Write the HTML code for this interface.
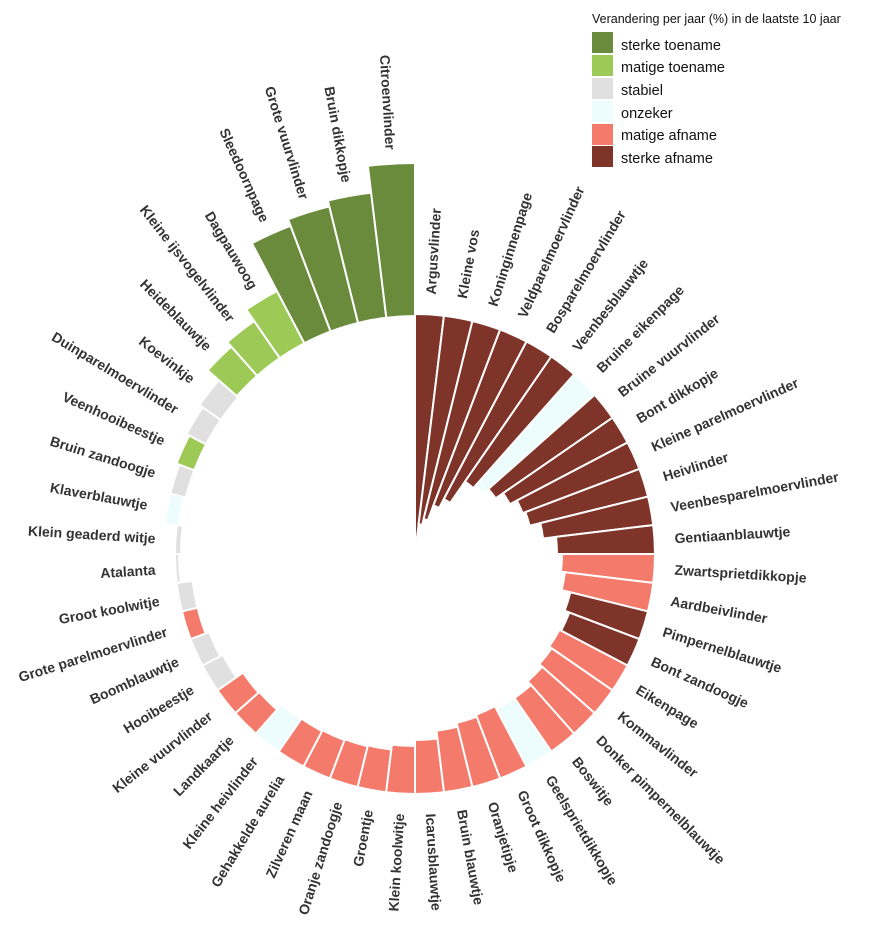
<!DOCTYPE html>
<html><head><meta charset="utf-8"><style>
html,body{margin:0;padding:0;background:#fff;}
svg{display:block;font-family:"Liberation Sans",sans-serif;}
</style></head><body>
<svg id="s" width="887" height="928" xmlns="http://www.w3.org/2000/svg">
<g font-size="12.5" fill="#111"><text x="592" y="23">Verandering per jaar (%) in de laatste 10 jaar</text></g>
<g font-size="14.5" fill="#111">
<rect x="592" y="32" width="21" height="21" fill="#6a8a3c"/><text x="621" y="50">sterke toename</text>
<rect x="592" y="55" width="21" height="21" fill="#9dc957"/><text x="621" y="72">matige toename</text>
<rect x="592" y="78" width="21" height="21" fill="#e0e0e0"/><text x="621" y="95">stabiel</text>
<rect x="592" y="101" width="21" height="21" fill="#edfcfd"/><text x="621" y="118">onzeker</text>
<rect x="592" y="124" width="21" height="21" fill="#f47b6b"/><text x="621" y="140">matige afname</text>
<rect x="592" y="146" width="21" height="21" fill="#7e3429"/><text x="621" y="163">sterke afname</text>
</g>
<g id="bars"></g><g id="labels" font-size="14" font-weight="bold" fill="#333"></g>
</svg>
<script>
var C={sg:"#6a8a3c",mg:"#9dc957",st:"#e0e0e0",on:"#edfcfd",ma:"#f47b6b",sa:"#7e3429"};
var R=240,cx=415,cy=554;
var d=[
["Argusvlinder","sa",0,R],["Kleine vos","sa",30,R],["Koninginnenpage","sa",36,R],["Veldparelmoervlinder","sa",52,R],
["Bosparelmoervlinder","sa",62,R],["Veenbesblauwtje","sa",88,R],["Bruine eikenpage","on",91,R],["Bruine vuurvlinder","sa",98,R],
["Bont dikkopje","sa",107,R],["Kleine parelmoervlinder","sa",115,R],["Heivlinder","sa",118,R],["Veenbesparelmoervlinder","sa",129,R],
["Gentiaanblauwtje","sa",142,R],["Zwartsprietdikkopje","ma",147,R],["Aardbeivlinder","ma",151,R],["Pimpernelblauwtje","sa",160,R],
["Bont zandoogje","sa",165,R],["Eikenpage","ma",163,R],["Kommavlinder","ma",166,R],["Donker pimpernelblauwtje","ma",170,R],
["Boswitje","ma",175,R],["Geelsprietdikkopje","on",175,R],["Groot dikkopje","ma",172,R],["Oranjetipje","ma",174,R],
["Bruin blauwtje","ma",178,R],["Icarusblauwtje","ma",186,R],["Klein koolwitje","ma",192,R],["Groentje","ma",197,R],
["Oranje zandoogje","ma",198,R],["Zilveren maan","ma",199,R],["Gehakkelde aurelia","ma",200,R],["Kleine heivlinder","on",201,R],
["Landkaartje","ma",208,R],["Kleine vuurvlinder","ma",209,R],["Hooibeestje","st",217,R],["Boomblauwtje","st",220,R],
["Grote parelmoervlinder","ma",224,R],["Groot koolwitje","st",224,R],["Atalanta","st",236,R],["Klein geaderd witje","st",234,R],
["Klaverblauwtje","on",238,252],["Bruin zandoogje","st",236,252],["Veenhooibeestje","mg",236,255],["Duinparelmoervlinder","st",236,258],
["Koevinkje","st",236,262],["Heideblauwtje","mg",238,277],["Kleine ijsvogelvlinder","mg",238,283],["Dagpauwoog","mg",238,297],
["Sleedoornpage","sg",238,351],["Grote vuurvlinder","sg",238,358],["Bruin dikkopje","sg",238,364],["Citroenvlinder","sg",238,391]];
var n=d.length,step=2*Math.PI/n,bs="",ls="";
function P(r,a){return [(cx+r*Math.sin(a)).toFixed(2),(cy-r*Math.cos(a)).toFixed(2)];}
d.forEach(function(b,i){
 var a0=i*step,a1=(i+1)*step,ri=b[2],ro=b[3];
 var p1=P(ro,a0),p2=P(ro,a1),p3=P(ri,a1),p4=P(ri,a0);
 bs+='<path d="M'+p1+' A'+ro+' '+ro+' 0 0 1 '+p2+' L'+p3+(ri>0?' A'+ri+' '+ri+' 0 0 0 '+p4:'')+' Z" fill="'+C[b[1]]+'" stroke="#fff" stroke-width="2"/>';
 var am=(i+0.5)*step,deg=am*180/Math.PI,lr=(ro>R+30)?ro+14:Math.max(ro,R)+20;
 var p=P(lr,am);
 if(deg<180){ls+='<text x="'+p[0]+'" y="'+p[1]+'" dy="5" transform="rotate('+(deg-90).toFixed(2)+' '+p[0]+' '+p[1]+')">'+b[0]+'</text>';}
 else{ls+='<text x="'+p[0]+'" y="'+p[1]+'" dy="5" text-anchor="end" transform="rotate('+(deg-270).toFixed(2)+' '+p[0]+' '+p[1]+')">'+b[0]+'</text>';}
});
document.getElementById("bars").innerHTML=bs;
document.getElementById("labels").innerHTML=ls;
</script>
</body></html>
